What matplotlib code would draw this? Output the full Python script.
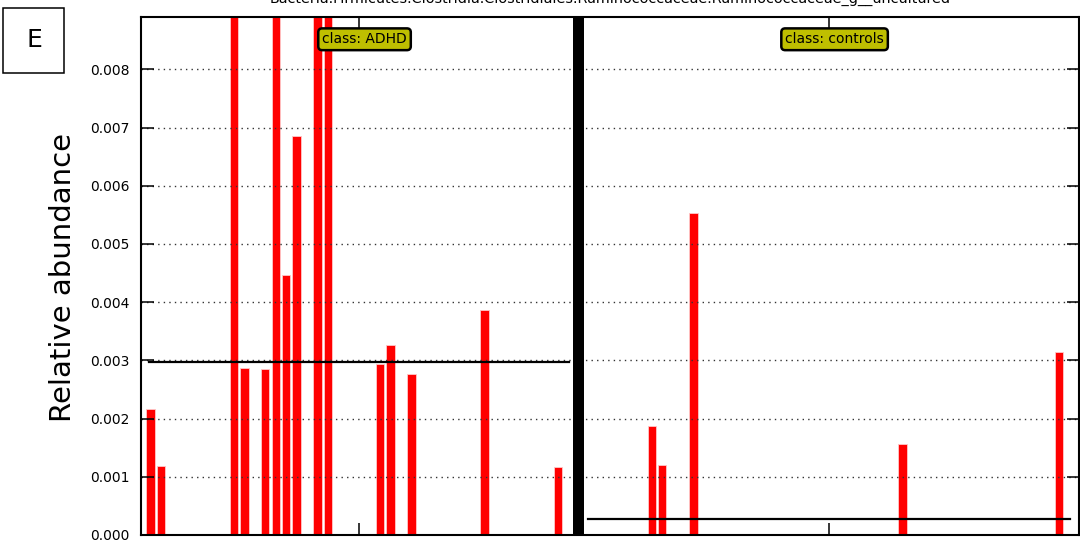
import matplotlib
matplotlib.use("Agg")
import matplotlib.pyplot as plt
from matplotlib.patches import Rectangle
import numpy as np

# Feature shown in the panel
feature_name = "Bacteria.Firmicutes.Clostridia.Clostridiales.Ruminococcaceae.Ruminococcaceae_g__uncultured"
panel_letter = "E"

# Class names and per-sample relative abundances (sample order as plotted)
class_names = ["ADHD", "controls"]

adhd_values = [
    0.00217, 0.00118, 0, 0, 0, 0, 0, 0, 0.0152, 0.00287,
    0, 0.00286, 0.0318, 0.00447, 0.00686, 0, 0.0245, 0.0163, 0, 0,
    0, 0, 0.00293, 0.00326, 0, 0.00276, 0, 0, 0, 0,
    0, 0, 0.00386, 0, 0, 0, 0, 0, 0, 0.00116,
    0,
]

control_values = [
    0, 0, 0, 0, 0, 0, 0.00187, 0.00121, 0, 0,
    0.00553, 0, 0, 0, 0, 0, 0, 0, 0, 0,
    0, 0, 0, 0, 0, 0, 0, 0, 0, 0,
    0.00156, 0, 0, 0, 0, 0, 0, 0, 0, 0,
    0, 0, 0, 0, 0, 0.00314, 0,
]

y_max = 0.0089
y_ticks = [0.000, 0.001, 0.002, 0.003, 0.004, 0.005, 0.006, 0.007, 0.008]

fig = plt.figure(figsize=(10.8, 5.46), dpi=100)
ax = fig.add_axes([141 / 1080, 1 - 535 / 546, 938 / 1080, 518 / 546])

groups = [adhd_values, control_values]
start = 0
centers = []
for gi, vals in enumerate(groups):
    x = np.arange(start, start + len(vals))
    ax.bar(x, vals, width=0.8, color="#ff0000", edgecolor="#ffc8c8",
           linewidth=0.6, zorder=1)
    mean = float(np.mean(vals))
    ax.plot([x[0] - 0.1, x[-1] + 0.05], [mean, mean], color="black",
            lw=1.6, zorder=4)
    centers.append((x[0] + x[-1]) / 2.0)
    ax.text((x[0] + x[-1]) / 2.0 + 0.5, 0.957, "class: " + class_names[gi],
            transform=ax.get_xaxis_transform(), ha="center", va="center",
            fontsize=10, color="black", zorder=6,
            bbox=dict(boxstyle="round,pad=0.28", fc="#bfbf00", ec="black",
                      lw=1.8))
    end = start + len(vals)
    if gi < len(groups) - 1:
        # thick separator between classes
        ax.axvspan(end - 0.5, end + 0.5, color="black", lw=0, zorder=5)
        start = end + 1

ax.set_xlim(-0.9, 88.9)
ax.set_ylim(0, y_max)
ax.set_yticks(y_ticks)
ax.set_yticklabels([f"{v:.3f}" for v in y_ticks])
ax.set_xticks(centers)
ax.set_xticklabels(["", ""])

ax.yaxis.grid(True, linestyle=(0, (1, 3)), color="#333333", lw=1.0, zorder=3)
ax.set_axisbelow(False)

ax.tick_params(axis="both", direction="in", length=9, width=1.1,
               top=True, right=True, labelsize=10, pad=8, colors="black")
for sp in ax.spines.values():
    sp.set_linewidth(1.5)
    sp.set_zorder(7)

ax.set_title(feature_name, fontsize=10.4, pad=10.5)
fig.text(63 / 1080, 1 - 277 / 546, "Relative abundance", rotation=90,
         ha="center", va="center", fontsize=21)

# Panel letter box
fig.add_artist(Rectangle((3 / 1080, 1 - 73 / 546), 61 / 1080, 65 / 546,
                         transform=fig.transFigure, fill=False,
                         ec="black", lw=1.1))
fig.text(34 / 1080, 1 - 40 / 546, panel_letter, ha="center", va="center",
         fontsize=18)

fig.savefig("out.png", dpi=100)
